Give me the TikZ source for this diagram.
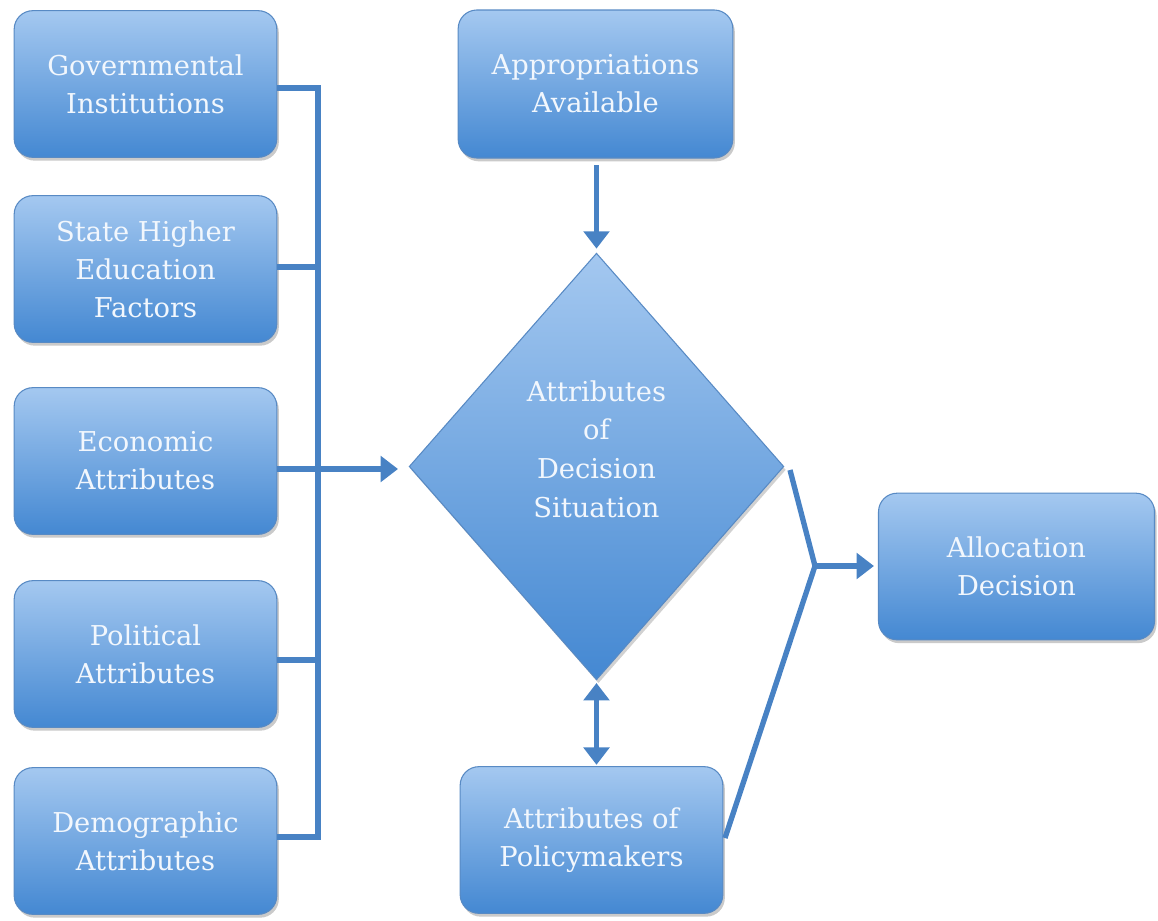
\documentclass[tikz,border=0pt]{standalone}
\usepackage{fontspec}
\setmainfont{DejaVu Serif}
\usetikzlibrary{shapes.geometric,arrows.meta,shadows,calc}
\definecolor{boxtop}{RGB}{164,200,240}
\definecolor{boxbot}{RGB}{68,136,210}
\definecolor{boxline}{RGB}{88,138,196}
\definecolor{conn}{RGB}{72,130,196}
\definecolor{txt}{RGB}{242,247,253}
\tikzset{
  blk/.style={rectangle, rounded corners=14pt, draw=boxline, line width=0.8pt,
    top color=boxtop, bottom color=boxbot, text=txt, align=center,
    minimum width=197pt, minimum height=110pt, inner sep=2pt,
    font=\fontsize{20.5}{28.5}\selectfont,
    drop shadow={shadow xshift=1.5pt, shadow yshift=-2.5pt, opacity=0.35, fill=black!60}},
  dia/.style={diamond, draw=boxline, line width=0.8pt, top color=boxtop, bottom color=boxbot,
    inner sep=0pt, minimum width=281pt, minimum height=320pt,
    drop shadow={shadow xshift=1.5pt, shadow yshift=-2.5pt, opacity=0.3, fill=black!60}},
  dtxt/.style={text=txt, align=center, font=\fontsize{20.5}{29}\selectfont},
  wire/.style={draw=conn, line width=4pt},
  arr/.style={wire, -{Triangle[length=13pt,width=19pt]}},
  darr/.style={wire, {Triangle[length=13pt,width=19pt]}-{Triangle[length=13pt,width=19pt]}}
}
\begin{document}
\begin{tikzpicture}[x=0.75pt,y=-0.75pt]
\useasboundingbox (0,0) rectangle (1158,921);
\node[blk] (gov) at (145.5,84) {Governmental\\Institutions};
\node[blk] (state) at (145.5,269) {State Higher\\Education\\Factors};
\node[blk] (econ) at (145.5,461) {Economic\\Attributes};
\node[blk] (pol) at (145.5,654) {Political\\Attributes};
\node[blk] (demo) at (145.5,841) {Demographic\\Attributes};
\node[blk, minimum width=206pt, minimum height=111pt] (appr) at (595.5,84) {Appropriations\\Available};
\node[dia] (dec) at (596.5,466.5) {};
\node[dtxt] (dect) at (596.5,449) {Attributes\\of\\Decision\\Situation};
\node[blk] (pm) at (591.5,840) {Attributes of\\Policymakers};
\node[blk, minimum width=207pt] (alloc) at (1016.5,566.5) {Allocation\\Decision};
% bus coordinates
\coordinate (bgov) at (318,88);
\coordinate (bstate) at (318,267);
\coordinate (bpol) at (318,660);
\coordinate (bdemo) at (318,837);
\coordinate (econout) at (277,469);
\coordinate (decin) at (398,469);
\coordinate (join) at (815,566);
\coordinate (decout) at (790,470);
\coordinate (pmout) at (725,838);
% left bus
\draw[wire, line join=miter] (gov.east |- bgov) -- (bgov) -- (bdemo) -- (demo.east |- bdemo);
\draw[wire] (state.east |- bstate) -- (bstate);
\draw[wire] (pol.east |- bpol) -- (bpol);
\draw[arr] (econ.east |- econout) -- (decin);
% top arrow
\draw[arr, shorten <=5pt, shorten >=3pt] (appr.south -| dec.north) -- (dec.north);
% double arrow
\draw[darr, shorten <=2pt, shorten >=1pt] (dec.south) -- (dec.south |- pm.north);
% right join
\draw[wire, line join=miter] (decout) -- (join) -- (pmout);
\draw[arr, shorten >=3pt] (join) -- (join -| alloc.west);
\end{tikzpicture}
\end{document}
